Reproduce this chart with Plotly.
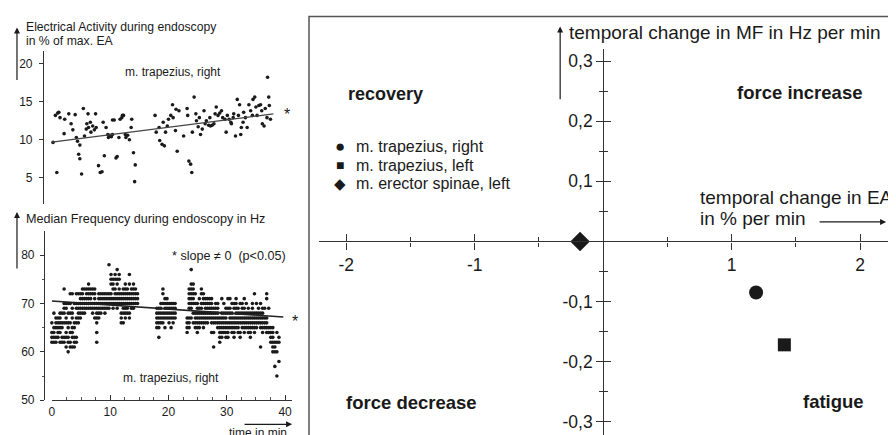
import plotly.graph_objects as go

# ------------------------------------------------------------
# data
# ------------------------------------------------------------
# EA (m. trapezius, right), time in min / % of max EA
ea_time = [0.2, 0.85, 0.6, 1.0, 1.2, 1.4, 2.2, 2.1, 2.9, 3.3, 3.6, 4.0, 4.2, 4.4, 4.6,
           4.8, 5.1, 4.8, 5.4, 5.6, 5.9, 6.0, 6.2, 6.3, 6.6, 6.7, 7.0, 7.3, 7.5, 7.6,
           8.0, 8.3, 8.6, 8.8, 9.0, 9.3, 9.6, 9.7, 10.0, 10.2, 10.4, 10.4, 10.7, 11.0,
           11.2, 11.5, 11.7, 12.0, 12.1, 12.3, 12.6, 12.7, 13.0, 13.3, 13.6, 13.7, 14.0,
           14.3, 14.2,
           17.7, 17.9, 18.4, 18.5, 18.9, 19.3, 19.1, 19.5, 19.8, 20.0, 20.4, 20.7, 20.8,
           21.2, 21.3, 21.5, 21.8, 22.6, 23.2, 23.3, 23.5, 23.8, 24.0, 24.1, 24.4, 24.7,
           24.8, 25.1, 25.3, 25.5, 25.8, 26.1, 26.3, 26.5, 26.9, 27.1, 27.2, 27.5, 27.8,
           28.0, 28.2, 28.5, 28.8, 29.1, 29.3, 29.7, 29.9, 30.1, 30.4, 30.7, 30.8, 31.1,
           31.2, 31.5, 31.8, 32.0, 32.2, 32.4, 32.5, 32.8, 32.9, 33.2, 33.5, 33.8, 34.1,
           34.4, 34.5, 34.8, 35.0, 35.2, 35.5, 35.8, 36.0, 36.1, 36.4, 36.6, 36.9, 37.0,
           37.2, 37.3, 37.5]
ea_value = [9.65, 5.7, 13.2, 13.5, 13.6, 12.9, 12.7, 10.8, 13.4, 12.1, 11.3, 13.3, 10.3, 9.8, 8.1,
            7.5, 5.5, 9.3, 14.1, 10.5, 11.4, 12.1, 13.4, 11.6, 12.3, 11.0, 11.8, 11.3, 13.4, 11.6,
            6.6, 5.7, 5.8, 12.3, 7.9, 11.6, 10.7, 10.3, 10.6, 10.4, 10.7, 12.6, 12.6, 7.6,
            7.8, 10.3, 12.7, 12.9, 13.2, 13.2, 10.7, 10.3, 10.6, 10.0, 11.6, 12.7, 8.3,
            6.7, 4.5,
            13.2, 11.0, 11.6, 9.9, 9.4, 9.2, 12.3, 11.0, 11.8, 12.7, 13.2, 14.6, 12.9,
            11.2, 14.0, 8.5, 13.8, 10.5, 14.1, 13.2, 7.2, 6.8, 5.7, 11.0, 15.6, 13.4,
            12.5, 11.7, 12.9, 10.7, 11.4, 13.8, 12.1, 12.5, 11.9, 12.9, 11.8, 11.9, 12.1,
            13.4, 14.3, 13.2, 13.5, 13.8, 12.9, 12.7, 11.0, 13.2, 12.7, 12.3, 12.1, 12.9,
            13.4, 10.5, 15.3, 13.2, 14.6, 10.7, 11.6, 12.3, 13.6, 12.9, 11.6, 14.6, 13.8,
            13.2, 15.3, 15.6, 14.3, 13.2, 14.5, 14.6, 13.8, 12.1, 11.8, 14.1, 12.9, 18.2,
            15.6, 14.5, 12.7]
ea_trend_t = [0, 38]
ea_trend_v = [9.7, 13.4]

# MF (m. trapezius, right): sample times and the Hz values found at each time
mf_col_time = [0.0, 0.35, 0.7, 1.05, 1.4, 1.75, 2.1, 2.45, 2.8, 3.15, 3.5, 3.85, 4.2, 4.55,
               4.9, 5.25, 5.6, 5.95, 6.3, 6.65, 7.0, 7.35, 7.7, 8.05, 8.4, 8.75, 9.1, 9.45,
               9.8, 10.15, 10.5, 10.85, 11.2, 11.55, 11.9, 12.25, 12.6, 12.95, 13.3, 13.65,
               14.0, 14.35, 14.7,
               18.0, 18.35, 18.7, 19.05, 19.4, 19.75, 20.1, 20.45, 20.8, 21.15,
               23.2, 23.55, 23.9, 24.25, 24.6, 24.95, 25.3, 25.65, 26.0, 26.35, 26.7, 27.05,
               27.4, 27.75, 28.1, 28.45, 28.8, 29.15, 29.5, 29.85, 30.2, 30.55, 30.9, 31.25,
               31.6, 31.95, 32.3, 32.65, 33.0, 33.35, 33.7, 34.05, 34.4, 34.75, 35.1, 35.45,
               35.8, 36.15, 36.5, 36.85, 37.2, 37.55, 37.9, 38.25, 38.6, 38.95]
mf_col_hz = [[62, 63, 64, 66], [62, 63, 64, 65, 68], [62, 63, 65, 66, 67], [63, 64, 65, 66, 67],
             [62, 64, 65, 66, 67, 68], [62, 63, 65, 66, 68], [62, 63, 66, 68, 69, 70, 73],
             [61, 63, 64, 66, 67, 69, 70], [60, 62, 63, 65, 66, 68, 70],
             [61, 62, 64, 66, 68, 70, 72], [61, 63, 64, 65, 67, 68, 69, 72],
             [61, 62, 63, 65, 66, 70], [62, 63, 66, 67, 69, 70, 72], [66, 67, 68, 69, 70, 72],
             [67, 68, 69, 70, 71, 72], [68, 69, 70, 71, 72, 73], [68, 69, 70, 71, 73],
             [69, 70, 71, 72, 73], [69, 70, 71, 72, 73, 74], [69, 70, 71, 72, 73],
             [68, 69, 70, 72, 73], [67, 69, 70, 71, 72, 73], [62, 64, 66, 67, 68, 69, 70],
             [67, 68, 69, 70, 71, 72], [68, 69, 70, 71, 72], [69, 70, 71, 72],
             [68, 69, 70, 71, 72], [69, 70, 71, 72], [69, 70, 71, 72, 78],
             [70, 71, 72, 74, 75, 76], [69, 70, 71, 73, 74, 75], [70, 71, 72, 73, 75, 76],
             [69, 70, 71, 72, 74, 75, 77], [70, 71, 72, 73, 75, 76], [66, 67, 68, 70, 71, 72],
             [66, 68, 69, 70, 71, 72, 73], [67, 68, 69, 70, 71, 72, 73, 74],
             [68, 69, 70, 71, 72, 73], [67, 68, 70, 71, 72, 74, 76], [69, 70, 71, 72, 73],
             [69, 70, 71, 72, 73, 74], [70, 71, 72, 73], [70, 71, 72],
             [65, 66, 67, 68, 69], [63, 65, 66, 67, 68, 69], [66, 67, 68, 69, 70],
             [66, 67, 68, 70, 72, 73], [65, 67, 68, 69, 70, 71], [67, 68, 69, 70, 71],
             [66, 67, 68, 69, 70], [65, 67, 68, 69, 70], [66, 67, 68, 69, 70], [67, 68, 69, 70],
             [64, 65, 66, 67], [65, 66, 67, 69, 70, 71, 72, 73], [67, 69, 70, 71, 72, 73, 74, 77],
             [66, 68, 70, 71, 72, 73, 74], [65, 66, 67, 68, 70, 72], [64, 65, 66, 67, 68, 69, 70],
             [65, 66, 67, 68, 69, 71], [66, 67, 68, 69, 70, 72, 73], [65, 66, 67, 68, 70, 71, 72],
             [66, 67, 68, 69, 70, 71], [66, 67, 68, 69, 70, 71], [67, 68, 69, 70, 71],
             [64, 66, 67, 68, 69, 70, 71], [61, 64, 66, 67, 68, 69], [66, 67, 68, 69, 70],
             [65, 66, 67, 68, 69, 70], [62, 63, 64, 65, 66, 67], [63, 64, 65, 66, 67, 68, 71],
             [64, 65, 66, 67, 68, 70], [63, 64, 65, 66, 67, 68, 69], [63, 64, 65, 66, 68, 69, 71],
             [65, 66, 67, 68, 69, 71], [64, 65, 66, 67, 68, 70], [63, 64, 65, 66, 67, 69, 70],
             [65, 66, 67, 68, 69, 70, 71], [64, 65, 66, 67, 68, 69], [63, 64, 66, 67, 68, 70],
             [65, 66, 67, 68, 69, 70], [64, 65, 66, 67, 68, 69, 71], [65, 66, 67, 68, 70],
             [64, 65, 66, 67, 68, 69], [63, 64, 65, 66, 67, 68], [65, 66, 67, 68, 69, 70],
             [64, 65, 66, 67, 68, 72], [65, 66, 67, 68, 70], [66, 67, 68, 69],
             [61, 65, 66, 67, 68, 70], [64, 65, 66, 67, 68, 69], [65, 66, 67, 69],
             [64, 65, 66, 67, 71, 72], [64, 65, 69], [62, 63, 64, 65], [60, 61, 62, 63, 64, 65],
             [57, 60, 61, 62], [55, 60, 62, 64], [58, 62, 63]]
mf_trend_t = [0, 39.7]
mf_trend_hz = [70.5, 67.2]

# quadrant plot: temporal change in EA (% per min) vs temporal change in MF (Hz per min)
muscles = ["m. trapezius, right", "m. trapezius, left", "m. erector spinae, left"]
ea_change = [1.19, 1.41, -0.18]
mf_change = [-0.085, -0.172, 0.0]
symbols = ["circle", "square", "diamond"]
legend_glyphs = ["\u25cf", "\u25a0", "\u25c6"]

# ------------------------------------------------------------
# helpers: picture pixels -> paper coords
# (the plot div sits 8 px in from the page corner, and the snapshot
#  comes out about 2 % shorter than the page, so undo both here)
# ------------------------------------------------------------
W, H = 896, 435
OFF_X, OFF_Y, SY = 8, 7.5, 0.982


def fy(y):
    # picture y -> figure pixel y
    return (y - OFF_Y) / SY


def px(x):
    return (x - OFF_X) / W


def py(y):
    return 1 - fy(y) / H


INK = "#1a1a1a"
FONT = "Liberation Sans, Arial, sans-serif"

mf_time = []
mf_hz = []
for t, col in zip(mf_col_time, mf_col_hz):
    for hz in col:
        mf_time.append(t)
        mf_hz.append(hz)

fig = go.Figure()

fig.add_trace(go.Scatter(x=ea_time, y=ea_value, mode="markers", xaxis="x", yaxis="y",
                         marker=dict(size=3.6, color=INK), cliponaxis=False, showlegend=False))
fig.add_trace(go.Scatter(x=ea_trend_t, y=ea_trend_v, mode="lines", xaxis="x", yaxis="y",
                         line=dict(color="#444", width=1.2), showlegend=False))

fig.add_trace(go.Scatter(x=mf_time, y=mf_hz, mode="markers", xaxis="x2", yaxis="y2",
                         marker=dict(size=3.6, color=INK), cliponaxis=False, showlegend=False))
fig.add_trace(go.Scatter(x=mf_trend_t, y=mf_trend_hz, mode="lines", xaxis="x2", yaxis="y2",
                         line=dict(color="#222", width=1.6), showlegend=False))

sizes = [14, 13, 15]
for name, xv, yv, sym, sz in zip(muscles, ea_change, mf_change, symbols, sizes):
    fig.add_trace(go.Scatter(x=[xv], y=[yv], mode="markers", name=name, xaxis="x3", yaxis="y3",
                             marker=dict(symbol=sym, size=sz, color=INK), showlegend=False))

# dummy trace so the overlay axes (second half of crossing ticks) get drawn
fig.add_trace(go.Scatter(x=[None], y=[None], xaxis="x4", yaxis="y4", showlegend=False))

# ------------------------------------------------------------
# axes
# ------------------------------------------------------------
time_dom = [px(49), px(290)]
time_rng = [0, 41.2]

left_tick = dict(showline=True, linecolor="#333", linewidth=1, tickcolor="#333",
                 tickfont=dict(size=12, color=INK, family=FONT), showgrid=False, zeroline=False)

# right panel: x = 0 at picture x 602.2 (128.9 px per unit),
# y = 0 at picture y 240.5 (600 px per unit)
right_x_dom = [px(317), 1]
right_y_dom = [0, py(48)]
y_bottom = OFF_Y + H * SY
right_x_rng = [(317 - 602.2) / 128.9, (OFF_X + W - 602.2) / 128.9]
right_y_rng = [(240.5 - y_bottom) / 600, (240.5 - 48) / 600]
x_pos = py(240.5)
y_pos = px(602.2)

fig.update_layout(
    width=W, height=H,
    margin=dict(l=0, r=0, t=0, b=0),
    paper_bgcolor="white", plot_bgcolor="white",
    font=dict(family=FONT, color=INK),
    showlegend=False,
    xaxis=dict(domain=time_dom, range=time_rng, visible=False, anchor="y"),
    yaxis=dict(domain=[py(203), py(50)], range=[1.58, 21.71], anchor="free", position=px(40),
               tickvals=[5, 10, 15, 20], ticks="outside", ticklen=4, ticklabelstandoff=4,
               **left_tick),
    xaxis2=dict(domain=time_dom, range=time_rng, anchor="y2",
                tickvals=[0, 10, 20, 30, 40], ticks="inside", ticklen=5,
                minor=dict(dtick=2.5, ticks="inside", ticklen=3, tickcolor="#555"),
                **left_tick),
    yaxis2=dict(domain=[py(399), py(230)], range=[50, 84.99], anchor="free", position=px(41),
                tickvals=[50, 60, 70, 80], ticks="outside", ticklen=4, ticklabelstandoff=3,
                minor=dict(dtick=5, ticks="outside", ticklen=2, tickcolor="#555"),
                **left_tick),
    xaxis3=dict(domain=right_x_dom, range=right_x_rng, anchor="free", position=x_pos,
                showline=True, linecolor="#333", linewidth=1.2,
                tickvals=[-2, -1, 1, 2], ticktext=["-2", "-1", "1", "2"],
                ticks="outside", ticklen=7, tickcolor="#333", tickwidth=1.2,
                minor=dict(tickvals=[-1.5, -0.5, 0.5, 1.5], ticks="outside", ticklen=4,
                           tickcolor="#333"),
                tickfont=dict(size=17.5, color=INK), showgrid=False, zeroline=False),
    yaxis3=dict(domain=right_y_dom, range=right_y_rng, anchor="free", position=y_pos,
                showline=True, linecolor="#333", linewidth=1.2,
                tickvals=[-0.3, -0.2, -0.1, 0.1, 0.2, 0.3],
                ticktext=["-0,3", "-0,2", "-0,1", "0,1", "0,2", "0,3"],
                ticks="outside", ticklen=7, tickcolor="#333", tickwidth=1.2,
                minor=dict(tickvals=[-0.25, -0.15, -0.05, 0.05, 0.15, 0.25], ticks="outside",
                           ticklen=4, tickcolor="#333"),
                tickfont=dict(size=17.5, color=INK), showgrid=False, zeroline=False),
    xaxis4=dict(domain=right_x_dom, range=right_x_rng, anchor="free", position=x_pos,
                overlaying="x3", showline=False, showticklabels=False,
                tickvals=[-2, -1, 1, 2], ticks="inside", ticklen=7, tickcolor="#333", tickwidth=1.2,
                minor=dict(tickvals=[-1.5, -0.5, 0.5, 1.5], ticks="inside", ticklen=4,
                           tickcolor="#333"),
                showgrid=False, zeroline=False),
    yaxis4=dict(domain=right_y_dom, range=right_y_rng, anchor="free", position=y_pos,
                overlaying="y3", showline=False, showticklabels=False,
                tickvals=[-0.3, -0.2, -0.1, 0.1, 0.2, 0.3], ticks="inside", ticklen=7,
                tickcolor="#333", tickwidth=1.2,
                minor=dict(tickvals=[-0.25, -0.15, -0.05, 0.05, 0.15, 0.25], ticks="inside",
                           ticklen=4, tickcolor="#333"),
                showgrid=False, zeroline=False),
)

# frame round the quadrant plot
fig.add_shape(type="rect", xref="paper", yref="paper", x0=px(307), x1=1.01, y0=-0.01, y1=py(16),
              line=dict(color="#555", width=1.5))

# ------------------------------------------------------------
# texts and arrows
# ------------------------------------------------------------
def label(x, y, text, size, xanchor="left", bold=False):
    if bold:
        text = "<b>" + text + "</b>"
    fig.add_annotation(x=px(x), y=py(y), xref="paper", yref="paper", text=text, showarrow=False,
                       xanchor=xanchor, yanchor="middle", font=dict(size=size, color=INK))


def arrow(x0, y0, x1, y1, width=1.2):
    # head at (x1, y1), tail offset given in pixels
    fig.add_annotation(x=px(x1), y=py(y1), ax=x0 - x1, ay=fy(y0) - fy(y1),
                       xref="paper", yref="paper", text="", showarrow=True, arrowhead=2,
                       arrowsize=1, arrowwidth=width, arrowcolor=INK)


# top-left panel
label(21, 26.5, "Electrical Activity during endoscopy", 12.2)
label(21, 40.5, "in % of max. EA", 12.2)
arrow(14, 80, 14, 27)
label(120, 71, "m. trapezius, right", 12)
label(285, 114, "*", 16, xanchor="center")

# bottom-left panel
label(21, 218, "Median Frequency during endoscopy in Hz", 12.6)
arrow(14, 268, 14, 211)
label(168, 255, "* slope \u2260 0  (p<0.05)", 12.6)
label(293, 320, "*", 16, xanchor="center")
label(118, 377, "m. trapezius, right", 12)
label(225, 432, "time in min", 12)
arrow(241, 423, 290, 423)

# quadrant panel
label(566, 32, "temporal change in MF in Hz per min", 19)
arrow(559, 99, 559, 26)
label(697, 197, "temporal change in EA", 19)
label(697, 218, "in % per min", 19)
arrow(818, 221, 886, 221)

label(344, 93, "recovery", 18, bold=True)
label(734, 92, "force increase", 18.5, bold=True)
label(342, 401, "force decrease", 18.5, bold=True)
label(801, 400, "fatigue", 18.5, bold=True)

glyph_sizes = [17, 14, 15]
for i, (glyph, name, gs) in enumerate(zip(legend_glyphs, muscles, glyph_sizes)):
    yy = 146 + i * 18.5
    label(338, yy, glyph, gs, xanchor="center")
    label(352, yy, name, 16)

fig.write_html("out.html")
